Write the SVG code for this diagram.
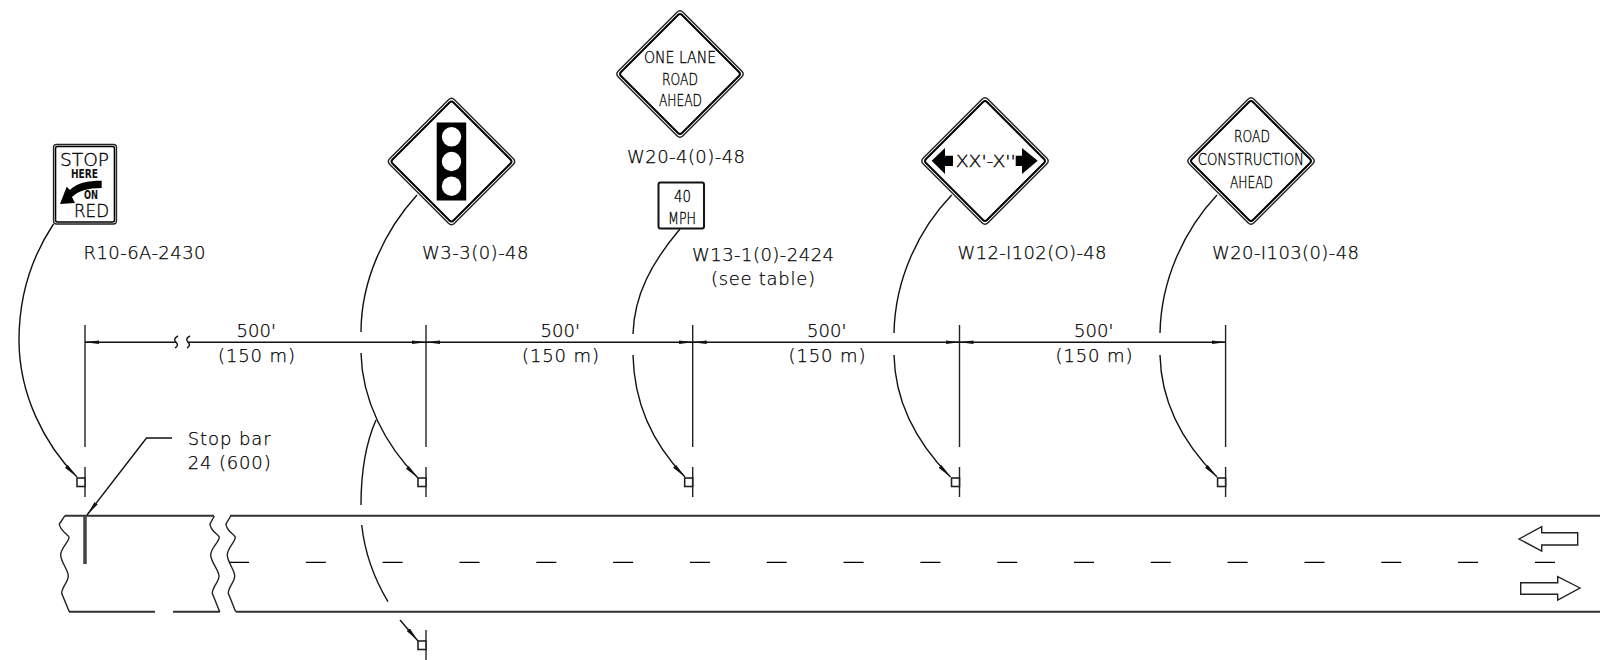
<svg xmlns="http://www.w3.org/2000/svg" width="1600" height="660" viewBox="0 0 1600 660">
<style>
.l{fill:none;stroke:#222;stroke-width:1.4}
.r{fill:none;stroke:#333;stroke-width:2}
.d{fill:none;stroke:#111;stroke-width:1.400}
.t{font-family:"DejaVu Sans",sans-serif;font-size:18px;font-weight:200;fill:#000;stroke:#000;stroke-width:.25}
.s{font-family:"DejaVu Sans",sans-serif;font-size:16px;font-weight:200;fill:#000;stroke:#000;stroke-width:.35}
.b{font-family:"DejaVu Sans",sans-serif;font-size:12px;font-weight:700;fill:#111}
.o1{fill:#fff;stroke:#222;stroke-width:1.4}
.o2{fill:#fff;stroke:#000;stroke-width:2}
.p{fill:#fff;stroke:#222;stroke-width:1.6}
</style>
<defs>
<marker id="a" markerUnits="userSpaceOnUse" markerWidth="15" markerHeight="8" refX="14" refY="4" orient="auto"><path d="M0,2.200L14,4L0,5.800Z" fill="#111"/></marker>
<marker id="h" markerUnits="userSpaceOnUse" markerWidth="16" markerHeight="8" refX="15" refY="4" orient="auto"><path d="M0,2L15,4L0,6Z" fill="#111"/></marker>
<path id="dia" d="M-3,-61.700Q0,-64.700 3,-61.700L61.700,-3Q64.700,0 61.700,3L3,61.700Q0,64.700 -3,61.700L-61.700,3Q-64.700,0 -61.700,-3Z" class="o1"/>
<path id="dib" d="M-2,-59Q0,-61 2,-59L59,-2Q61,0 59,2L2,59Q0,61 -2,59L-59,2Q-61,0 -59,-2Z" class="o2"/>
<g id="post"><path d="M0,0V30" class="l"/><rect x="-8" y="11" width="8" height="8.500" class="p"/></g>
</defs>

<g id="road">
<path class="r" d="M65,515.700H214M230,515.700H1600M69,611.700H155M173,611.700H220M236,611.700H1600"/>
<path class="l" d="M65,515.700L59.300,524C60,531 69,535 69,537.300C69,542 60.700,548 60.700,555C60.700,562 68.300,570 68.300,576C68.300,582 61.700,587 61.700,593.300L69.300,611.700"/>
<path class="l" d="M214.300,516L210,524C210,531 219.300,535 219.300,537.300C219.300,542 210.700,548 210.700,555C210.700,562 219,570 219,576C219,582 212.300,587 212.300,593.300L219.700,611.700"/>
<path class="l" d="M230.700,516L226,524C226,531 235.300,535 235.300,537.300C235.300,542 227.300,548 227.300,555C227.300,562 234.700,570 234.700,576C234.700,582 228.300,587 228.300,593.300L235.700,611.700"/>
<path stroke="#000" stroke-width="1.200" fill="none" d="M229,562.300h20M305.800,562.300h20M382.600,562.300h20M459.500,562.300h20M536.300,562.300h20M613.100,562.300h20M689.900,562.300h20M766.700,562.300h20M843.600,562.300h20M920.400,562.300h20M997.200,562.300h20M1074,562.300h20M1150.800,562.300h20M1227.600,562.300h20M1304.500,562.300h20M1381.300,562.300h20M1458.100,562.300h20M1535,562.300h20"/>
<path d="M85,516V564" stroke="#444" stroke-width="3.500" fill="none"/>
<path class="l" d="M1519,539L1541.700,526.700V532.700H1577.700V545H1541.700V551Z"/>
<path class="l" d="M1580,588L1557.700,576.700V582.700H1520.700V594.300H1557.700V600Z"/>
</g>

<g id="connectors">
<path class="d" d="M85,342.300H176M188,342.300H1226"/>
<path class="d" d="M178,336C174,338 174,340 176,342.300C178,344.500 178,346 175,348M190,336C186,338 186,340 188,342.300C190,344.500 190,346 187,348"/>
<path class="l" d="M85,325V447M426,325V447M692.700,325V447M959.500,325V447M1225.600,325V447"/>
<g>
<path d="M98,342.300H85" class="d" marker-end="url(#a)"/>
<path d="M413,342.300H426" class="d" marker-end="url(#a)"/>
<path d="M439,342.300H426" class="d" marker-end="url(#a)"/>
<path d="M680,342.300H692.700" class="d" marker-end="url(#a)"/>
<path d="M706,342.300H692.700" class="d" marker-end="url(#a)"/>
<path d="M946,342.300H959.500" class="d" marker-end="url(#a)"/>
<path d="M973,342.300H959.500" class="d" marker-end="url(#a)"/>
<path d="M1212,342.300H1225.600" class="d" marker-end="url(#a)"/>
</g>
<path class="d" marker-end="url(#h)" d="M53.500,224C33,255 19,295 19,340C19,395 45,445 77,477"/>
<path class="d" d="M417,195C385,230 361,280 361,332"/>
<path class="d" marker-end="url(#h)" d="M361,353C362,400 385,445 418,478"/>
<path class="d" d="M376,420C365,445 361,475 361,505M361.700,525C365,555 375,580 388,601.700"/>
<path class="d" marker-end="url(#h)" d="M400,620L418,641"/>
<path class="d" d="M680,229C652,262 634,295 633,334"/>
<path class="d" marker-end="url(#h)" d="M633,355C634,402 652,443 685,477"/>
<path class="d" d="M951.700,195C918,230 895,280 894,333"/>
<path class="d" marker-end="url(#h)" d="M894,355C895,402 917,443 950.500,477"/>
<path class="d" d="M1217,195C1184,230 1161,280 1160,333"/>
<path class="d" marker-end="url(#h)" d="M1160,355C1161,402 1183,443 1217,477"/>
<path class="d" marker-end="url(#h)" d="M172,438H146.500L87,515"/>
</g>

<use href="#post" x="85" y="467"/>
<use href="#post" x="426" y="467"/>
<use href="#post" x="426" y="630"/>
<use href="#post" x="692.700" y="467"/>
<use href="#post" x="959.500" y="467"/>
<use href="#post" x="1225.600" y="467"/>

<g id="sign-r10">
<rect x="53.500" y="144.500" width="63" height="79.500" rx="3" fill="#fff" stroke="#222" stroke-width="1.300"/>
<rect x="55.500" y="146.500" width="59" height="75.500" rx="2" fill="#fff" stroke="#000" stroke-width="1.600"/>
<text class="s" x="60" y="165.700" style="font-size:18px" textLength="49" lengthAdjust="spacingAndGlyphs">STOP</text>
<text class="b" x="71" y="178" textLength="27" lengthAdjust="spacingAndGlyphs">HERE</text>
<path d="M101.700,180.700C88,180.700 76,183 70,190L66.700,186.700L60,204L75,203L72,197C78,191 88,188 101.700,188Z" fill="#000"/>
<text class="b" x="84" y="199" textLength="14" lengthAdjust="spacingAndGlyphs">ON</text>
<text class="s" x="74" y="216.700" style="font-size:18px" textLength="35" lengthAdjust="spacingAndGlyphs">RED</text>
</g>
<text class="t" x="83.500" y="259" textLength="122">R10-6A-2430</text>

<g id="sign-w3" transform="translate(451.500,161.500)">
<use href="#dia"/><use href="#dib"/>
<rect x="-14.800" y="-39" width="29.500" height="78" fill="#000"/>
<circle cx="0" cy="-24.700" r="9.700" fill="#fff"/><circle cx="0" cy="0" r="9.700" fill="#fff"/><circle cx="0" cy="24.700" r="9.700" fill="#fff"/>
</g>
<text class="t" x="422" y="259" textLength="106.500">W3-3(0)-48</text>

<g id="sign-w20-4">
<g transform="translate(680,74)"><use href="#dia"/><use href="#dib"/></g>
<text class="s" x="644" y="63.300" textLength="72" lengthAdjust="spacingAndGlyphs">ONE LANE</text>
<text class="s" x="662" y="85" textLength="36" lengthAdjust="spacingAndGlyphs">ROAD</text>
<text class="s" x="659" y="105.700" textLength="43" lengthAdjust="spacingAndGlyphs">AHEAD</text>
</g>
<text class="t" x="627" y="163" textLength="118">W20-4(0)-48</text>

<g id="sign-w13">
<rect x="658.500" y="182.500" width="45.500" height="46" rx="2" fill="#fff" stroke="#111" stroke-width="2"/>
<text class="s" x="674" y="201.700" textLength="17" lengthAdjust="spacingAndGlyphs">40</text>
<text class="s" x="668" y="224" textLength="28" lengthAdjust="spacingAndGlyphs">MPH</text>
</g>
<text class="t" x="692" y="261" textLength="142">W13-1(0)-2424</text>
<text class="t" x="711" y="285" textLength="104">(see table)</text>

<g id="sign-w12">
<g transform="translate(985,161)"><use href="#dia"/><use href="#dib"/></g>
<path d="M931.700,160.700L945,148V155.700H953V166H945V174Z" fill="#000"/>
<path d="M1037.700,160.700L1022,148V155.700H1015.700V166H1022V174Z" fill="#000"/>
<text class="s" x="955.700" y="166.700" textLength="60" lengthAdjust="spacingAndGlyphs">XX'-X''</text>
</g>
<text class="t" x="957.500" y="259" textLength="149">W12-I102(O)-48</text>

<g id="sign-w20-i103">
<g transform="translate(1251,161)"><use href="#dia"/><use href="#dib"/></g>
<text class="s" x="1234" y="141.700" textLength="36" lengthAdjust="spacingAndGlyphs">ROAD</text>
<text class="s" x="1197.700" y="165" textLength="106.300" lengthAdjust="spacingAndGlyphs">CONSTRUCTION</text>
<text class="s" x="1230" y="188" textLength="43" lengthAdjust="spacingAndGlyphs">AHEAD</text>
</g>
<text class="t" x="1212" y="259" textLength="147">W20-I103(0)-48</text>

<g id="dimension-labels">
<text class="t" x="236.500" y="337" textLength="39.500">500'</text>
<text class="t" x="218" y="361.500" textLength="77">(150 m)</text>
<text class="t" x="540.500" y="337" textLength="39.500">500'</text>
<text class="t" x="522" y="361.500" textLength="77">(150 m)</text>
<text class="t" x="807" y="337" textLength="39.500">500'</text>
<text class="t" x="788.500" y="361.500" textLength="77">(150 m)</text>
<text class="t" x="1074" y="337" textLength="39.500">500'</text>
<text class="t" x="1055.500" y="361.500" textLength="77">(150 m)</text>
</g>
<g id="stop-bar-label">
<text class="t" x="187.700" y="445" textLength="83">Stop bar</text>
<text class="t" x="187.700" y="469" textLength="83">24 (600)</text>
</g>
</svg>
